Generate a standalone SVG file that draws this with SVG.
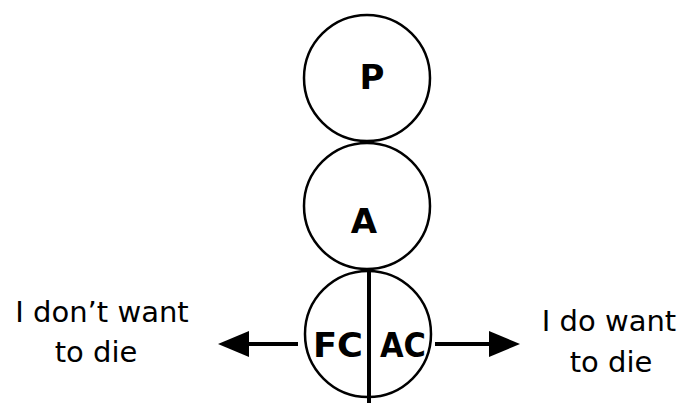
<svg xmlns="http://www.w3.org/2000/svg" width="683" height="403" viewBox="0 0 683 403">
<style>
.c{fill:#fff;stroke:#000;stroke-width:2.5}
.lbl{font-family:"DejaVu Sans","Liberation Sans",sans-serif;font-weight:bold;font-size:34px;text-anchor:middle;fill:#000}
.t{font-family:"DejaVu Sans","Liberation Sans",sans-serif;font-size:29px;text-anchor:middle;fill:#000}
.ln{stroke:#000;stroke-width:4;fill:none}
</style>
<rect width="683" height="403" fill="#fff"/>
<g id="P"><circle class="c" cx="367" cy="78" r="63"/><text class="lbl" x="372" y="89">P</text></g>
<g id="A"><circle class="c" cx="367" cy="206" r="63"/><text class="lbl" x="364" y="233">A</text></g>
<g id="FCAC"><circle class="c" cx="368" cy="334" r="63"/><text class="lbl" x="338" y="357" textLength="50" lengthAdjust="spacingAndGlyphs">FC</text><text class="lbl" x="403" y="357" textLength="46" lengthAdjust="spacingAndGlyphs">AC</text></g>
<g id="connectors">
<line class="ln" x1="369" y1="270" x2="369" y2="403"/>
<line class="ln" x1="298" y1="344" x2="247" y2="344"/>
<polygon points="218,344 249,331 249,357" fill="#000"/>
<line class="ln" x1="435" y1="344" x2="491" y2="344"/>
<polygon points="520,344 489,331 489,357" fill="#000"/>
</g>
<g id="left-label"><text class="t" x="102" y="322">I don’t want</text><text class="t" x="96" y="362">to die</text></g>
<g id="right-label"><text class="t" x="609" y="331">I do want</text><text class="t" x="611" y="372">to die</text></g>
</svg>
